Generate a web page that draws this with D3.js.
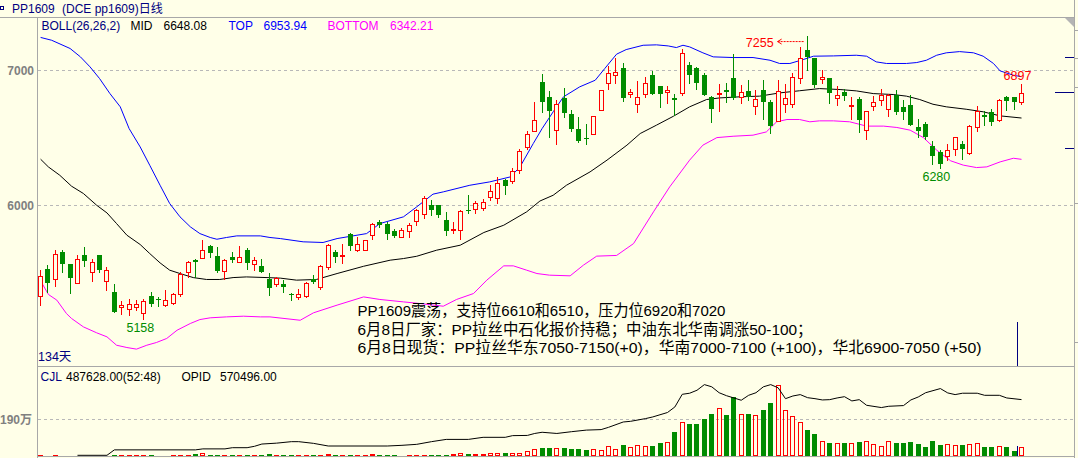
<!DOCTYPE html>
<html><head><meta charset="utf-8">
<script src="https://cdn.jsdelivr.net/npm/d3@7"></script>
<style>
html,body{margin:0;padding:0;background:#FFFFE8;overflow:hidden}
svg{display:block}
</style></head><body>
<svg id="c" width="1078" height="458"></svg>
<script>
// ---------------- DATA ----------------
const openP  = [5326,5528,5452,5654,5565,5429,5637,5511,5637,5444,5358,5249,5237,5249,5207,5333,5308,5264,5281,5341,5504,5595,5612,5699,5624,5513,5620,5582,5674,5563,5555,5457,5422,5422,5343,5323,5331,5459,5397,5545,5654,5624,5787,5669,5674,5780,5879,5861,5810,5763,5810,5884,5940,6002,6002,5896,5817,5817,5970,5977,5982,6064,6059,6192,6182,6261,6434,6553,6916,6805,6558,6800,6681,6570,6503,6526,6711,6911,6963,7015,6824,6750,6829,6965,6884,6842,6800,6834,7039,7022,6965,6805,6824,6854,6948,6805,6847,6736,6859,6768,6627,6750,6750,6948,7150,7096,6940,6948,6800,6839,6736,6787,6558,6736,6785,6718,6817,6726,6743,6582,6607,6439,6395,6365,6422,6454,6390,6582,6669,6694,6632,6805,6802,6768];
const highP  = [5521,5558,5669,5674,5565,5637,5689,5602,5637,5543,5417,5291,5308,5301,5308,5358,5323,5373,5355,5504,5590,5607,5743,5706,5694,5607,5654,5699,5684,5620,5602,5501,5471,5447,5355,5378,5434,5484,5558,5718,5669,5713,5797,5763,5743,5874,5891,5879,5829,5834,5871,5977,6069,6044,6002,5953,5879,5965,6076,6032,6049,6150,6212,6200,6279,6417,6550,6763,6972,6847,6780,6871,6706,6657,6607,6666,6859,7032,7096,7057,6866,6921,6953,6995,6884,6884,6829,7158,7064,7027,6982,6810,6898,6908,7121,6896,6933,6859,6933,6780,6928,6898,6982,7175,7255,7096,7002,6948,6884,6866,6805,6805,6698,6812,6866,6824,6854,6780,6817,6644,6620,6476,6410,6454,6504,6476,6595,6736,6701,6718,6787,6812,6802,6897];
const lowP   = [5261,5360,5405,5508,5353,5429,5553,5442,5504,5373,5212,5200,5192,5229,5158,5259,5257,5257,5267,5328,5471,5471,5612,5620,5508,5452,5582,5582,5528,5521,5508,5336,5405,5360,5303,5311,5323,5427,5385,5531,5582,5575,5669,5664,5674,5755,5842,5755,5763,5763,5763,5854,5908,5928,5916,5780,5797,5750,5945,5945,5970,6044,6020,6084,6163,6242,6417,6553,6690,6508,6459,6657,6553,6471,6459,6526,6711,6861,6908,6773,6805,6694,6805,6829,6731,6760,6669,6817,6908,6866,6822,6620,6701,6768,6792,6760,6780,6681,6644,6538,6627,6694,6731,6908,7002,6879,6908,6760,6743,6780,6644,6545,6496,6706,6743,6661,6681,6644,6595,6508,6496,6311,6280,6336,6373,6343,6385,6553,6595,6595,6627,6706,6716,6750];
const closeP = [5481,5427,5644,5570,5464,5607,5590,5580,5521,5521,5212,5266,5274,5274,5289,5269,5298,5301,5341,5496,5578,5582,5674,5649,5513,5595,5595,5620,5575,5595,5508,5392,5464,5397,5338,5348,5429,5434,5550,5706,5620,5637,5703,5718,5743,5866,5854,5787,5775,5822,5854,5965,6052,5970,5928,5812,5829,5958,5958,6015,6027,6106,6170,6145,6257,6402,6533,6637,6770,6698,6750,6686,6563,6479,6494,6666,6859,6985,6992,6797,6844,6805,6911,6829,6829,6859,6785,7133,6965,6908,6822,6713,6834,6842,6800,6842,6805,6792,6768,6587,6849,6800,6953,7096,7101,6891,6953,6834,6817,6812,6743,6632,6698,6768,6817,6817,6694,6694,6595,6553,6508,6368,6311,6410,6504,6420,6590,6701,6652,6620,6780,6775,6768,6837];
const volume = [52000,8000,52000,8000,8000,8000,8000,8000,8000,8000,52000,52000,52000,52000,52000,52000,8000,8000,52000,52000,52000,104000,155000,52000,52000,52000,52000,52000,52000,52000,52000,104000,52000,52000,52000,52000,52000,52000,52000,120000,52000,52000,52000,52000,52000,120000,52000,52000,52000,8000,52000,52000,52000,52000,52000,52000,120000,155000,120000,120000,120000,155000,155000,170000,155000,155000,260000,360000,397000,397000,397000,397000,345000,345000,294000,345000,294000,501000,345000,553000,449000,553000,501000,501000,656000,708000,1226000,1727000,1641000,1641000,1900000,2159000,2470000,2107000,3005000,2159000,2159000,2107000,2384000,2729000,3645000,2366000,2055000,1727000,1330000,1123000,795000,656000,691000,656000,691000,708000,760000,605000,501000,795000,656000,656000,708000,605000,449000,760000,553000,605000,553000,553000,605000,691000,449000,449000,501000,449000,242000,487628];

const topIdx = [0,1.5,4,5.4,6.7,8,9.4,10.8,12,13.5,14.8,16.2,17.5,18.9,20.3,21.6,23,23.9,25.2,26.6,29.8,31.1,32.5,35.6,38.3,40.2,44.2,46,49.2,51,53.2,54.6,58.2,60.9,63.7,65,66.8,68,69.5,70.9,73.1,75.2,76.5,78.1,79.4,81.7,83.5,85.1,86.2,87.1,88,89.8,91.2,93.9,96.6,98.9,100.2,101.6,103.4,104.8,107.5,110.6,112,113.3,114.7,117.4,118.8,120.1,121.5,122.8,124.6,126.5,127.8,129.2,130.1,131.9,133];
const topVal = [7245,7224,7163,7101,7027,6940,6829,6731,6570,6434,6298,6150,6015,5916,5842,5792,5763,5750,5763,5775,5775,5763,5755,5731,5726,5755,5792,5866,5916,5990,6084,6101,6150,6175,6212,6286,6459,6570,6694,6805,6879,6928,7015,7121,7155,7187,7190,7182,7170,7187,7175,7131,7101,7096,7096,7076,7052,7052,7081,7106,7108,7113,7106,7064,7052,7052,7059,7076,7113,7131,7140,7131,7106,7052,6997,6965,6954];
const midIdx = [0,1.05,2.6,4.2,5.8,7.6,9,10.3,11.7,13.5,14.8,16.2,17.5,18.9,20.7,22.5,24.3,26.1,27.9,30.7,32.5,34.7,37.4,40.2,43.8,47.4,49.2,51,53.7,56.9,60.1,62.8,65.9,67.7,69.5,71.3,74.5,76.8,79.5,81.3,83.5,85.8,88,90.3,92.1,94.8,97.5,100.2,102.9,105.6,108.4,110.6,112.9,115.6,117.4,119.2,121,122.8,125.5,127.8,130.1,133];
const midVal = [6343,6286,6224,6143,6089,6002,5945,5866,5780,5711,5644,5575,5521,5496,5466,5452,5452,5466,5471,5466,5462,5447,5452,5496,5550,5595,5607,5624,5669,5706,5800,5854,5953,6033,6076,6150,6249,6336,6447,6533,6595,6661,6731,6785,6797,6805,6810,6834,6850,6866,6859,6849,6829,6822,6810,6785,6750,6731,6713,6694,6664,6648];
const botIdx = [0,1.06,2.2,3.5,4.2,5.8,7.6,9,10.3,11.7,13,14.4,15.7,17.1,18.5,20.3,21.6,23,25.2,27.5,29.8,31.1,35.2,37,40.2,43.8,46,49.2,51.4,54.6,56.4,58.7,60.5,62.8,64.1,65.9,67.3,69,71.8,73.6,75.4,78.1,80.4,83.1,85.3,88,89.8,91.7,93.9,96.6,98.4,99.8,101.2,102.9,104.3,105.6,107.5,109.7,112,114.3,116.1,117.9,119.7,121.5,123.4,125.1,126.9,128.3,130.1,131.9,133];
const botVal = [5442,5341,5299,5200,5163,5101,5057,5027,4965,4948,4936,4965,4985,5015,5076,5126,5155,5168,5175,5180,5175,5175,5150,5205,5262,5323,5304,5286,5274,5254,5304,5348,5447,5553,5553,5521,5496,5484,5479,5558,5625,5630,5718,5953,6138,6336,6447,6503,6513,6521,6545,6620,6637,6637,6620,6627,6627,6620,6588,6588,6578,6558,6503,6410,6331,6299,6281,6286,6323,6350,6342];
const opidIdx = [5,9,10,21,22,25,26,28,29,30,32,34,35,37,39,47,49,51,53,55,58,60,63,64,66,67,68,70,72,74,76,77,79,80,82,83,85,86,87,88,89,90,91,92,93,95,96,97,98,99,100,101,102,103,104,105,106,107,108,109,110,111,112,114,115,117,118,119,120,122,123,124,125,127,128,130,131,133];
const opidVal = [7000,7000,62000,62000,72000,72000,84000,84000,98000,121000,130000,145000,145000,128000,101000,101000,108000,118000,145000,168000,168000,189000,189000,206000,208000,228000,240000,228000,246000,262000,267000,290000,344000,351000,378000,395000,440000,496000,624000,635000,665000,722000,700000,640000,610000,564000,614000,640000,700000,722000,690000,580000,607000,621000,590000,580000,567000,570000,587000,600000,557000,570000,513000,490000,503000,510000,567000,597000,640000,682000,638000,621000,635000,635000,614000,614000,587000,570496];

const priceTicks = [6000, 7000];
const volTicks = [1900000];
const volTickLabels = ['190万'];
const titleText = ['PP1609', '(DCE pp1609)日线'];
const bollHeader = [['BOLL(26,26,2)','#000080'],['MID','#000000'],['6648.08','#000000'],['TOP','#0000ff'],['6953.94','#0000ff'],['BOTTOM','#ff00ff'],['6342.21','#ff00ff']];
const volHeader = [['CJL','#000080'],['487628.00(52:48)','#000000'],['OPID','#000000'],['570496.00','#000000']];
const notes = ['PP1609震荡，支持位6610和6510，压力位6920和7020',
               '6月8日厂家：PP拉丝中石化报价持稳；中油东北华南调涨50-100；',
               '6月8日现货：PP拉丝华东7050-7150(+0)，华南7000-7100 (+100)，华北6900-7050 (+50)'];
const dayCount = '134天';

// ---------------- LAYOUT ----------------
const RED = '#ff0000', GREEN = '#008c00', GRID = '#b8b8b8', BORDER = '#a8a8a8';
const L = 37, R = 1074, TOP = 17, SEP = 366, BOT = 456;
const MIXF = 'Liberation Sans, Noto Sans CJK SC, sans-serif';
const svg = d3.select('#c');
svg.append('rect').attr('width',1078).attr('height',458).attr('fill','#FFFFE8');

const n = closeP.length;
const x = d3.scaleLinear().domain([0, n-1]).range([40.6, 1021.5]);
const y = d3.scaleLinear().domain([6000, 7000]).range([205.5, 70.5]);
const yv = d3.scaleLinear().domain([0, 1900000]).range([BOT, 419]);
const yo = d3.scaleLinear().domain([0, 570496]).range([BOT, 399.6]);

const defs = svg.append('defs');
defs.append('clipPath').attr('id','cm').append('rect').attr('x',L+1).attr('y',TOP+1).attr('width',R-L-1).attr('height',SEP-TOP-1);
defs.append('clipPath').attr('id','cv').append('rect').attr('x',L+1).attr('y',SEP+1).attr('width',R-L-1).attr('height',BOT-SEP-1);

// grid
const grid = svg.append('g').attr('stroke',GRID).attr('stroke-dasharray','3,3').attr('shape-rendering','crispEdges');
priceTicks.forEach(t => grid.append('line').attr('x1',L+1).attr('x2',R).attr('y1',Math.floor(y(t))+0.5).attr('y2',Math.floor(y(t))+0.5));
volTicks.forEach(t => grid.append('line').attr('x1',L+1).attr('x2',R).attr('y1',Math.floor(yv(t))+0.5).attr('y2',Math.floor(yv(t))+0.5));

// borders
const bd = svg.append('g').attr('stroke',BORDER).attr('shape-rendering','crispEdges');
bd.append('line').attr('x1',0).attr('x2',R).attr('y1',TOP+0.5).attr('y2',TOP+0.5);
bd.append('line').attr('x1',L+0.5).attr('x2',L+0.5).attr('y1',TOP).attr('y2',458);
bd.append('line').attr('x1',R+0.5).attr('x2',R+0.5).attr('y1',0).attr('y2',458);
bd.append('line').attr('x1',L).attr('x2',R).attr('y1',SEP+0.5).attr('y2',SEP+0.5);
bd.append('line').attr('x1',L).attr('x2',R).attr('y1',BOT+0.5).attr('y2',BOT+0.5);
[30,58,87,203,342].forEach(v => bd.append('line').attr('x1',R).attr('x2',1078).attr('y1',v+0.5).attr('y2',v+0.5));
svg.append('path').attr('d',`M${R-9},${TOP+1}L${R},${TOP+1}L${R},${TOP+10}Z`).attr('fill','#b4b4b4');

// axis labels
const axf = 'Liberation Sans, Arial, sans-serif';
priceTicks.forEach(t => svg.append('text').attr('x',34).attr('y',y(t)+4.5).attr('text-anchor','end')
  .attr('font-family',axf).attr('font-size',12).attr('font-weight','bold').attr('fill','#808080').text(t));
volTicks.forEach((t,k) => svg.append('text').attr('x',32).attr('y',yv(t)+5).attr('text-anchor','end')
  .attr('font-family',MIXF).attr('font-size',12).attr('font-weight','bold').attr('fill','#808080').text(volTickLabels[k]));

// title row
svg.append('rect').attr('x',0.5).attr('y',6.5).attr('width',3).attr('height',3).attr('fill','none').attr('stroke','#000080');
svg.append('text').attr('x',12).attr('y',13).attr('font-family',MIXF).attr('font-size',12).attr('fill','#000080').text(titleText[0]);
svg.append('text').attr('x',62).attr('y',13).attr('font-family',MIXF).attr('font-size',12).attr('fill','#000080').text(titleText[1]);

// BOLL header
const bx = [41.5,130.5,163.5,228.5,263.5,327.5,390];
bollHeader.forEach((h,k) => svg.append('text').attr('x',bx[k]).attr('y',30).attr('font-family',axf).attr('font-size',12).attr('fill',h[1]).text(h[0]));
const vx = [40.5,66,181.5,220];
volHeader.forEach((h,k) => svg.append('text').attr('x',vx[k]).attr('y',380.5).attr('font-family',axf).attr('font-size',12).attr('fill',h[1]).text(h[0]));

// ---------------- MAIN PANEL ----------------
const gm = svg.append('g').attr('clip-path','url(#cm)');
const line = d3.line().x(d => x(d[0])).y(d => y(d[1]));
const bands = [[topIdx,topVal,'#0000ff'],[midIdx,midVal,'#000000'],[botIdx,botVal,'#ff00ff']];
bands.forEach(b => gm.append('path').datum(b[0].map((v,k)=>[v,b[1][k]])).attr('d',line)
  .attr('fill','none').attr('stroke',b[2]).attr('stroke-width',1));

const gc = gm.append('g').attr('shape-rendering','crispEdges');
for (let i=0;i<n;i++){
  const up = closeP[i] >= openP[i];
  const col = up ? RED : GREEN;
  const px = Math.floor(x(i));
  const cx = px + 0.5;
  const bt = Math.round(y(Math.max(openP[i],closeP[i])));
  const bb = Math.round(y(Math.min(openP[i],closeP[i])));
  const hy = Math.round(y(highP[i])), ly = Math.round(y(lowP[i]));
  if (up) {
    if (hy < bt) gc.append('line').attr('x1',cx).attr('x2',cx).attr('y1',hy).attr('y2',bt).attr('stroke',col);
    if (ly > bb) gc.append('line').attr('x1',cx).attr('x2',cx).attr('y1',bb).attr('y2',ly+1).attr('stroke',col);
    if (bb - bt >= 2) gc.append('rect').attr('x',px-1.5).attr('y',bt+0.5).attr('width',4).attr('height',bb-bt).attr('fill','#FFFFE8').attr('stroke',col);
    else gc.append('rect').attr('x',px-2).attr('y',bt).attr('width',5).attr('height',Math.max(1,bb-bt+1)).attr('fill',col);
  } else {
    gc.append('line').attr('x1',cx).attr('x2',cx).attr('y1',hy).attr('y2',ly+1).attr('stroke',col);
    gc.append('rect').attr('x',px-2).attr('y',bt).attr('width',5).attr('height',Math.max(1,bb-bt)).attr('fill',col);
  }
}

// extreme-value labels
const lf = 'Liberation Sans, Arial, sans-serif';
const iHi = d3.maxIndex(highP), iLo = d3.minIndex(lowP);
gm.append('text').attr('x',x(iHi)-34).attr('y',y(highP[iHi])+11).attr('text-anchor','end').attr('font-family',lf).attr('font-size',12.5).attr('fill',RED).text(highP[iHi]);
gm.append('line').attr('x1',x(iHi)-30).attr('x2',x(iHi)-3).attr('y1',y(highP[iHi])+5.5).attr('y2',y(highP[iHi])+5.5).attr('stroke',RED).attr('stroke-dasharray','2,1');
gm.append('path').attr('d',`M${x(iHi)-26},${y(highP[iHi])+3}L${x(iHi)-30},${y(highP[iHi])+5.5}L${x(iHi)-26},${y(highP[iHi])+8}`).attr('fill','none').attr('stroke',RED);
gm.append('text').attr('x',x(iLo)-3.5).attr('y',y(lowP[iLo])+13).attr('text-anchor','middle').attr('font-family',lf).attr('font-size',12.5).attr('fill',GREEN).text(lowP[iLo]);
const iLo2 = 100 + d3.minIndex(lowP.slice(100));
gm.append('text').attr('x',x(iLo2)-4).attr('y',y(lowP[iLo2])+13).attr('text-anchor','middle').attr('font-family',lf).attr('font-size',12.5).attr('fill',GREEN).text(lowP[iLo2]);
gm.append('text').attr('x',x(n-1)-4).attr('y',y(highP[n-1])-4.5).attr('text-anchor','middle').attr('font-family',lf).attr('font-size',12.5).attr('fill',RED).text(highP[n-1]);

// notes
const noteLen = [368, 455, 624];
const noteY = [316, 334.5, 353];
notes.forEach((t,k) => gm.append('text').attr('x',357.5).attr('y',noteY[k]).attr('font-family',MIXF)
  .attr('font-size',15.5).attr('fill','#000').attr('textLength',noteLen[k]).attr('lengthAdjust','spacingAndGlyphs').text(t));

gm.append('text').attr('x',38).attr('y',361).attr('font-family',MIXF).attr('font-size',12.5).attr('fill','#000080').text(dayCount);

// cursor marker & right side level marks
const NAVY = '#000080';
const mk = svg.append('g').attr('stroke',NAVY).attr('shape-rendering','crispEdges');
mk.append('line').attr('x1',1017.5).attr('x2',1017.5).attr('y1',322).attr('y2',SEP);
mk.append('line').attr('x1',1017.5).attr('x2',1017.5).attr('y1',446).attr('y2',BOT);
[[7098,1065],[6839,1055],[6424,1065]].forEach(m => mk.append('line').attr('x1',m[1]).attr('x2',R).attr('y1',Math.floor(y(m[0]))+0.5).attr('y2',Math.floor(y(m[0]))+0.5));

// ---------------- VOLUME PANEL ----------------
const gv = svg.append('g').attr('clip-path','url(#cv)');
const gvb = gv.append('g').attr('shape-rendering','crispEdges');
for (let i=0;i<n;i++){
  const up = closeP[i] >= openP[i];
  const col = up ? RED : GREEN;
  const px = Math.floor(x(i));
  const h = BOT - yv(volume[i]);
  if (h < 0.5) continue;
  const top = Math.round(yv(volume[i]));
  if (up && BOT - top >= 3) gvb.append('rect').attr('x',px-1.5).attr('y',top+0.5).attr('width',4).attr('height',BOT-top-1).attr('fill','none').attr('stroke',col);
  else gvb.append('rect').attr('x',px-2).attr('y',top).attr('width',5).attr('height',Math.max(1,BOT-top)).attr('fill',col);
}
const oline = d3.line().x(d => x(d[0])).y(d => yo(d[1]));
gv.append('path').datum(opidIdx.map((v,k)=>[v,opidVal[k]])).attr('d',oline).attr('fill','none').attr('stroke','#000').attr('stroke-width',1);
</script>
</body></html>
